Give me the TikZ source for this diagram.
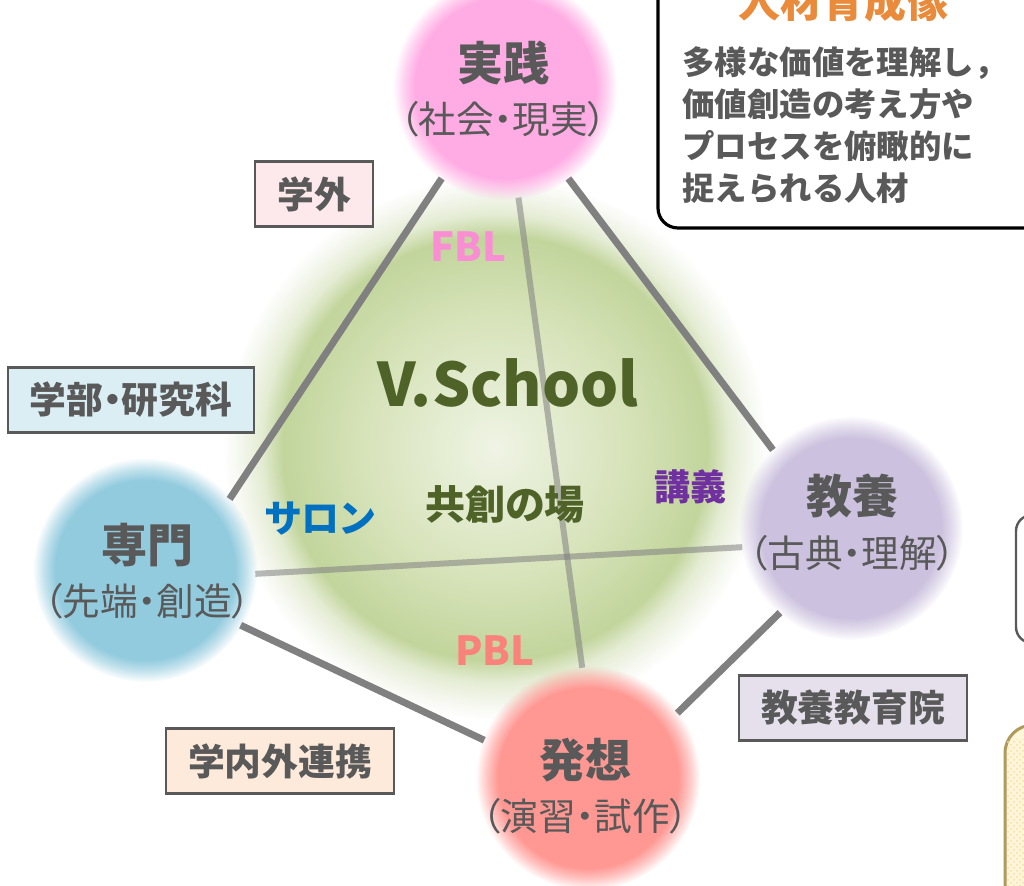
\documentclass[tikz,border=0pt]{standalone}
\usepackage{fontspec}
\setmainfont{Noto Sans CJK JP}[RawFeature=+palt]
\newfontfamily\jpfull{Noto Sans CJK JP}
\usepackage{xcolor}
\usetikzlibrary{calc}
\usetikzlibrary{positioning}
\usetikzlibrary{fadings}
\usetikzlibrary{patterns}

\definecolor{txtgray}{HTML}{595959}
\definecolor{linegray}{HTML}{808080}
\definecolor{vcen}{HTML}{EFF4E5}
\definecolor{vmid}{HTML}{D7E3BA}
\definecolor{vring}{HTML}{C2D59C}
\definecolor{vpale}{HTML}{E4ECD3}
\definecolor{vpale2}{HTML}{F3F6EC}
\definecolor{vgreen}{HTML}{4F6228}
\definecolor{pinkspot}{HTML}{FFABE4}
\definecolor{lavspot}{HTML}{CCC1DE}
\definecolor{bluespot}{HTML}{92CBDE}
\definecolor{salmonspot}{HTML}{FF9792}
\definecolor{tagpink}{HTML}{FDE9EC}
\definecolor{tagblue}{HTML}{DAEEF3}
\definecolor{tagpeach}{HTML}{FDEADA}
\definecolor{taglav}{HTML}{E5E0EC}
\definecolor{fblpink}{HTML}{F98ED3}
\definecolor{pblsalmon}{HTML}{F9827C}
\definecolor{lecpurple}{HTML}{7030A0}
\definecolor{salonblue}{HTML}{0070C0}
\definecolor{orangettl}{HTML}{E98B3A}
\definecolor{goldedge}{HTML}{AE9A5C}
\definecolor{goldfill}{HTML}{FFF5D8}
\definecolor{golddot}{HTML}{F5DFA2}

\pgfdeclareradialshading{vglow}{\pgfpointorigin}{color(0bp)=(vcen); color(12bp)=(vmid); color(19.5bp)=(vring); color(21.5bp)=(vpale); color(23.3bp)=(vpale2); color(25bp)=(white); color(50bp)=(white)}
\pgfdeclareradialshading{softedgeshade}{\pgfpointorigin}{color(0bp)=(pgftransparent!0); color(20bp)=(pgftransparent!0); color(22.5bp)=(pgftransparent!45); color(25bp)=(pgftransparent!100); color(50bp)=(pgftransparent!100)}
\pgfdeclarefading{softedge}{\pgfuseshading{softedgeshade}}

\begin{document}
\begin{tikzpicture}[x=0.5pt, y=-0.5pt, text=txtgray]
			\tikzstyle{spot}=[circle, minimum size=110pt, inner sep=0pt]
			\tikzstyle{link}=[draw=linegray, line width=3.5pt]
			\tikzstyle{cross}=[draw=linegray, opacity=0.55, line width=3pt]
			\tikzstyle{ttl}=[font=\fontsize{23}{27}\selectfont\bfseries, text=txtgray, inner sep=0pt]
			\tikzstyle{sub}=[font=\fontsize{18.8}{22}\selectfont, text=txtgray, inner sep=0pt]
			\tikzstyle{tag}=[draw=txtgray, line width=1.2pt, minimum height=32.5pt, inner xsep=11pt, font=\fontsize{18.4}{21}\selectfont\bfseries, text=txtgray]
			\tikzstyle{word}=[font=\fontsize{18}{22}\selectfont\bfseries, inner sep=0pt]

			\useasboundingbox (0,0) rectangle (1024,886);

			\coordinate (vfield) at (495,448);
			\shade[shading=vglow] (vfield) circle (272);

			\node[spot] (jissen) at (505,88) {};
			\node[spot] (kyoyo) at (851,528) {};
			\node[spot] (senmon) at (145,570) {};
			\node[spot] (hasso) at (588,778) {};

			\draw[link] (jissen.235) -- (senmon.40);
			\draw[link] (jissen.305) -- (kyoyo.135);
			\draw[link] (senmon.330) -- (hasso.160);
			\draw[link] (kyoyo.230) -- (hasso.36);
			\draw[cross] (jissen.277) -- (hasso.93);
			\draw[cross] (senmon.358) -- (kyoyo.190);

			\fill[pinkspot, path fading=softedge] (jissen) circle (112);
			\fill[lavspot, path fading=softedge] (kyoyo) circle (112);
			\fill[bluespot, path fading=softedge] (senmon) circle (112);
			\fill[salmonspot, path fading=softedge] (hasso) circle (112);

			\node[ttl] (jissenT) at (503,63) {実践};
			\node[sub, below=8pt of jissenT] (jissenS) {（社会・現実）};
			\node[ttl] (kyoyoT) at (852,496) {教養};
			\node[sub, below=8pt of kyoyoT] (kyoyoS) {（古典・理解）};
			\node[ttl] (senmonT) at (147,545) {専門};
			\node[sub, below=8pt of senmonT] (senmonS) {（先端・創造）};
			\node[ttl] (hassoT) at (585,760) {発想};
			\node[sub, below=8pt of hassoT] (hassoS) {（演習・試作）};

			\node[tag, fill=tagpink] (gakugai) at (314,194) {学外};
			\node[tag, fill=tagblue] (gakubu) at (131,400) {学部・研究科};
			\node[tag, fill=tagpeach] (renkei) at (280,761) {学内外連携};
			\node[tag, fill=taglav] (kyoikuin) at (853,708) {教養教育院};

			\node[word, text=vgreen, font=\fontsize{30}{35}\selectfont\bfseries] (vname) at (508,383) {V.School};
			\node[word, text=vgreen, font=\fontsize{20}{24}\selectfont\bfseries] (kyoso) at (505,505) {共創の場};
			\node[word, text=fblpink, font=\fontsize{20}{24}\selectfont\bfseries] (fbl) at (468,247) {FBL};
			\node[word, text=pblsalmon, font=\fontsize{20}{24}\selectfont\bfseries] (pbl) at (495,651) {PBL};
			\node[word, text=lecpurple] (kogi) at (690,487) {講義};
			\node[word, text=salonblue, font=\fontsize{19}{22}\selectfont\bfseries] (salon) at (320,519) {サロン};

			\draw[line width=1.6pt, rounded corners=10pt, fill=white] (658,-40) rectangle (1090,228);
			\node[font=\jpfull\fontsize{21}{24}\selectfont\bfseries, text=orangettl, inner sep=0pt] (ideal) at (843,2) {人材育成像};
			\node[anchor=north west, align=left, inner sep=0pt, font=\jpfull\fontsize{16.2}{21}\selectfont\bfseries] (idealtxt) at (682,46) {多様な価値を理解し，\\価値創造の考え方や\\プロセスを俯瞰的に\\捉えられる人材};

			\draw[draw=txtgray, line width=1.2pt, rounded corners=8pt, fill=white] (1016,515) rectangle (1100,643);
			\draw[draw=goldedge, line width=1.5pt, rounded corners=14pt, fill=goldfill] (1005,725) rectangle (1100,960);
			\fill[pattern=crosshatch dots, pattern color=golddot] (1007,740) rectangle (1100,960);
\end{tikzpicture}
\end{document}
